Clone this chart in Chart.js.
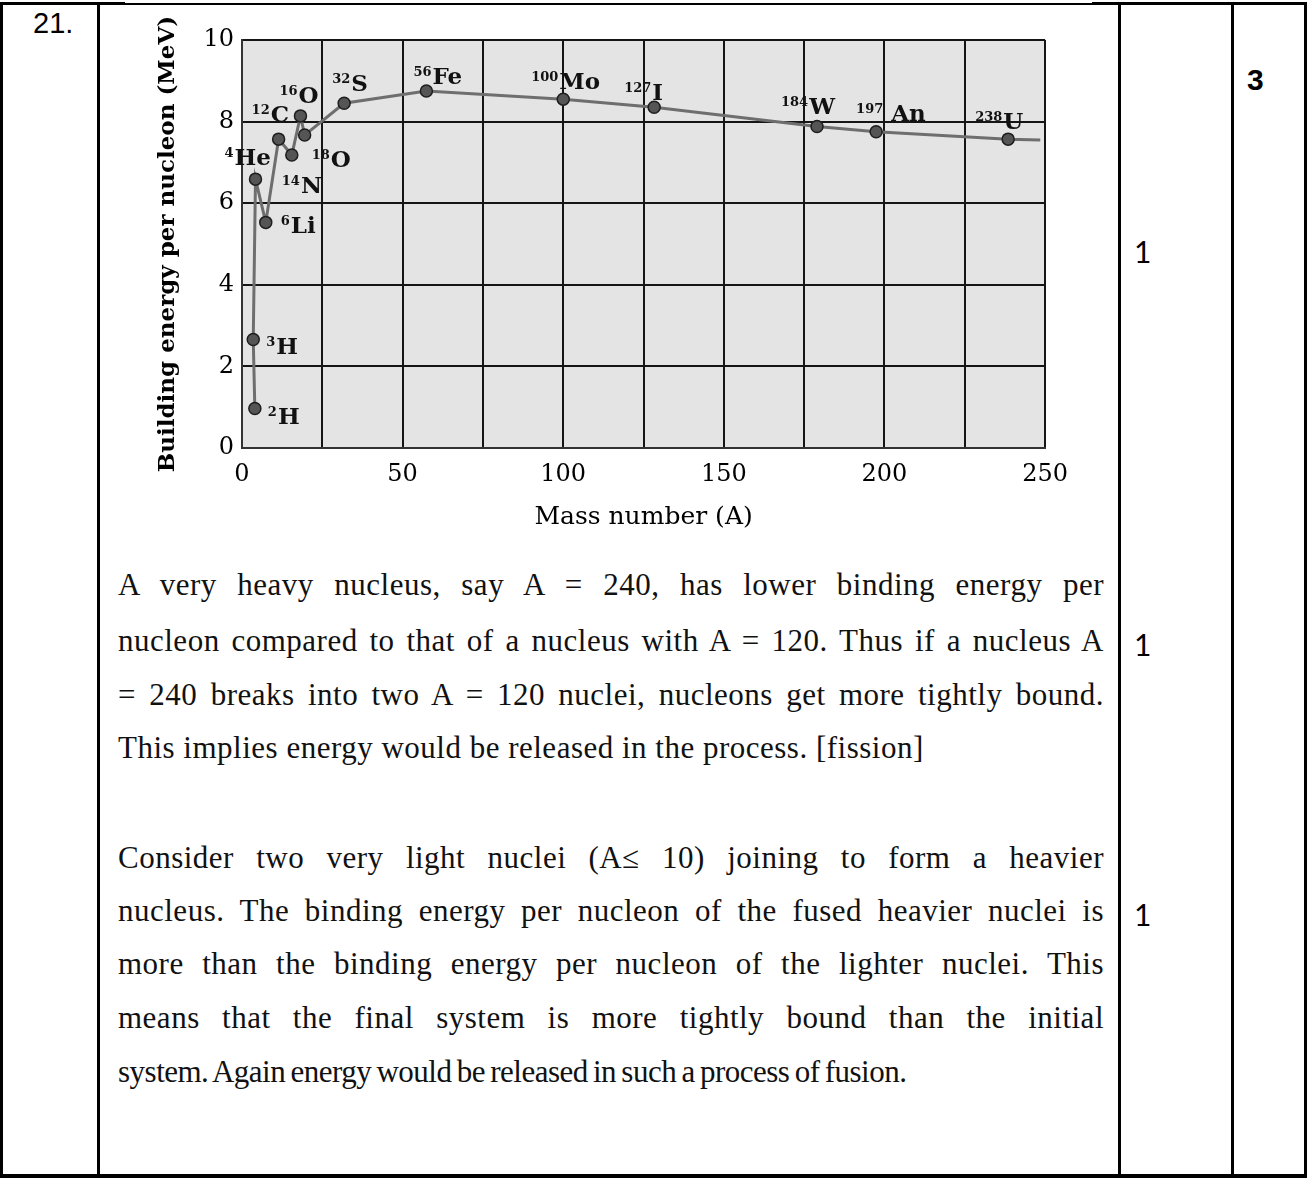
<!DOCTYPE html>
<html>
<head>
<meta charset="utf-8">
<script src="https://cdn.jsdelivr.net/npm/chart.js@4.4.1/dist/chart.umd.min.js"></script>
<style>
  html, body { margin: 0; padding: 0; background: #fff; }
  body { width: 1307px; height: 1178px; position: relative; overflow: hidden; }
  .b { position: absolute; background: #000; }
  .t { position: absolute; color: #000; white-space: nowrap; }
  .num { font-family: "Liberation Sans", Arial, sans-serif; line-height: 1; }
  .mark { font-family: Lato, "Liberation Sans", sans-serif; font-size: 30px; line-height: 1; }
  .ln { position: absolute; left: 118px; width: 986px; font-family: "Liberation Serif", serif;
        font-size: 31px; letter-spacing: 0.5px; line-height: 1; color: #111; white-space: nowrap; }
  .j { text-align: justify; text-align-last: justify; white-space: normal; }
  #chartBox { position: absolute; left: 140px; top: 8px; width: 940px; height: 540px; }
</style>
</head>
<body>
<!-- table borders -->
<div class="b" style="left:0;top:3px;width:1307px;height:2px;"></div>
<div class="b" style="left:0;top:2px;width:125px;height:3px;"></div>
<div class="b" style="left:1092px;top:2px;width:215px;height:3px;"></div>
<div class="b" style="left:0;top:1174px;width:1307px;height:4px;"></div>
<div class="b" style="left:0;top:2px;width:3px;height:1176px;"></div>
<div class="b" style="left:97px;top:2px;width:3px;height:1176px;"></div>
<div class="b" style="left:1118px;top:2px;width:3px;height:1176px;"></div>
<div class="b" style="left:1231px;top:2px;width:3px;height:1176px;"></div>
<div class="b" style="left:1304px;top:2px;width:3px;height:1176px;"></div>

<div class="t num" style="left:33px;top:9px;font-size:29px;">21.</div>
<div class="t num" style="left:1247px;top:65px;font-size:30px;font-weight:bold;">3</div>
<div class="t mark" style="left:1134px;top:236px;">1</div>
<div class="t mark" style="left:1134px;top:629px;">1</div>
<div class="t mark" style="left:1134px;top:899px;">1</div>

<div id="chartBox"><canvas id="c" width="940" height="540"></canvas></div>

<div class="ln j" style="top:569px;">A very heavy nucleus, say A = 240, has lower binding energy per</div>
<div class="ln j" style="top:625px;">nucleon compared to that of a nucleus with A = 120. Thus if a nucleus A</div>
<div class="ln j" style="top:679px;">= 240 breaks into two A = 120 nuclei, nucleons get more tightly bound.</div>
<div class="ln" style="top:732px;">This implies energy would be released in the process. [fission]</div>

<div class="ln j" style="top:842px;">Consider two very light nuclei (A≤ 10) joining to form a heavier</div>
<div class="ln j" style="top:895px;">nucleus. The binding energy per nucleon of the fused heavier nuclei is</div>
<div class="ln j" style="top:948px;">more than the binding energy per nucleon of the lighter nuclei. This</div>
<div class="ln j" style="top:1002px;">means that the final system is more tightly bound than the initial</div>
<div class="ln" style="top:1056px;letter-spacing:-0.5px;word-spacing:-2px;">system. Again energy would be released in such a process of fusion.</div>

<script>
// ---- data ----
const massNumbers   = [4.0, 3.5, 4.2, 7.4, 11.4, 15.5, 18.2, 19.5, 31.8, 57.4, 100.0, 128.3, 179.0, 197.4, 238.5, 248.5];
const bindingEnergy = [0.97, 2.66, 6.59, 5.53, 7.57, 7.18, 8.14, 7.67, 8.45, 8.75, 8.55, 8.35, 7.88, 7.75, 7.57, 7.55];
const massLabels    = ['2', '3', '4', '6', '12', '14', '16', '18', '32', '56', '100', '127', '184', '197', '238', ''];
const symbols       = ['H', 'H', 'He', 'Li', 'C', 'N', 'O', 'O', 'S', 'Fe', 'Mo', 'I', 'W', 'An', 'U', ''];
const xTicksMajor   = [0, 50, 100, 150, 200, 250];
const yTicks        = [0, 2, 4, 6, 8, 10];

// ---- label placement (pixel offsets: left edge of superscript, baseline of symbol, gap) ----
const labelOffsets = [
  [13, 16, 1], [13, 15, 1], [-31, -14, 1], [15, 11, 1], [-27, -17, 1], [-10, 38, 1],
  [-21, -13, 1], [7, 32, 1], [-12, -12, 1], [-13, -7, 1], [-32, -10, 1], [-30, -7, 1],
  [-36, -12, 1], [-20, -11, 8], [-33, -10, 1], [0, 0, 0]
];

const points = massNumbers.map((a, i) => ({ x: a, y: bindingEnergy[i] }));

const plotBg = {
  id: 'plotBg',
  beforeDraw(chart) {
    const { ctx, chartArea: { left, top, width, height } } = chart;
    ctx.save();
    ctx.fillStyle = '#e4e4e4';
    ctx.fillRect(left, top, width, height);
    ctx.restore();
  }
};

const nuclideLabels = {
  id: 'nuclideLabels',
  afterDatasetsDraw(chart) {
    const ctx = chart.ctx;
    const meta = chart.getDatasetMeta(0);
    ctx.save();
    ctx.fillStyle = '#111';
    ctx.textBaseline = 'alphabetic';
    ctx.textAlign = 'left';
    meta.data.forEach((pt, i) => {
      const sym = symbols[i];
      if (!sym) return;
      const [dx, dy, gap] = labelOffsets[i];
      const x = pt.x + dx, y = pt.y + dy;
      ctx.font = 'bold 13px "DejaVu Serif"';
      ctx.fillText(massLabels[i], x, y - 8);
      const w = ctx.measureText(massLabels[i]).width;
      ctx.font = 'bold 23px "DejaVu Serif"';
      ctx.fillText(sym, x + w + gap, y);
    });
    ctx.restore();
  }
};

Chart.defaults.font.family = '"DejaVu Serif", serif';
Chart.defaults.color = '#000';

new Chart(document.getElementById('c'), {
  type: 'line',
  data: {
    datasets: [{
      data: points,
      borderColor: '#6e6e6e',
      borderWidth: 3,
      tension: 0,
      pointRadius: symbols.map(s => s ? 6 : 0),
      pointHoverRadius: 6,
      pointBackgroundColor: '#555555',
      pointBorderColor: '#1e1e1e',
      pointBorderWidth: 1.5
    }]
  },
  options: {
    responsive: false,
    animation: false,
    layout: { padding: { left: 0, top: 32, right: 27, bottom: 0 } },
    plugins: { legend: { display: false }, tooltip: { enabled: false } },
    scales: {
      x: {
        type: 'linear',
        min: 0, max: 250,
        afterFit(scale) { scale.height = 100; },
        ticks: {
          stepSize: 25,
          padding: 12,
          font: { size: 24 },
          color: '#000',
          maxRotation: 0,
          callback: v => xTicksMajor.includes(v) ? String(v) : ''
        },
        grid: { color: '#151515', lineWidth: 2, drawTicks: false },
        border: { display: true, color: '#333', width: 2 },
        title: {
          display: true,
          text: 'Mass number (A)',
          font: { size: 25 },
          color: '#000',
          padding: { top: 0, bottom: 16 }
        }
      },
      y: {
        min: 0, max: 10,
        afterFit(scale) { scale.width = 102; },
        ticks: {
          stepSize: 2,
          padding: 8,
          font: { size: 24 },
          color: '#000',
          callback: v => yTicks.includes(v) ? String(v) : ''
        },
        grid: { color: '#151515', lineWidth: 2, drawTicks: false },
        border: { display: true, color: '#333', width: 2 },
        title: {
          display: true,
          text: 'Building energy per nucleon (MeV)',
          font: { size: 23, weight: 'bold' },
          color: '#000',
          padding: { top: 14, bottom: 0 }
        }
      }
    }
  },
  plugins: [plotBg, nuclideLabels]
});
</script>
</body>
</html>
